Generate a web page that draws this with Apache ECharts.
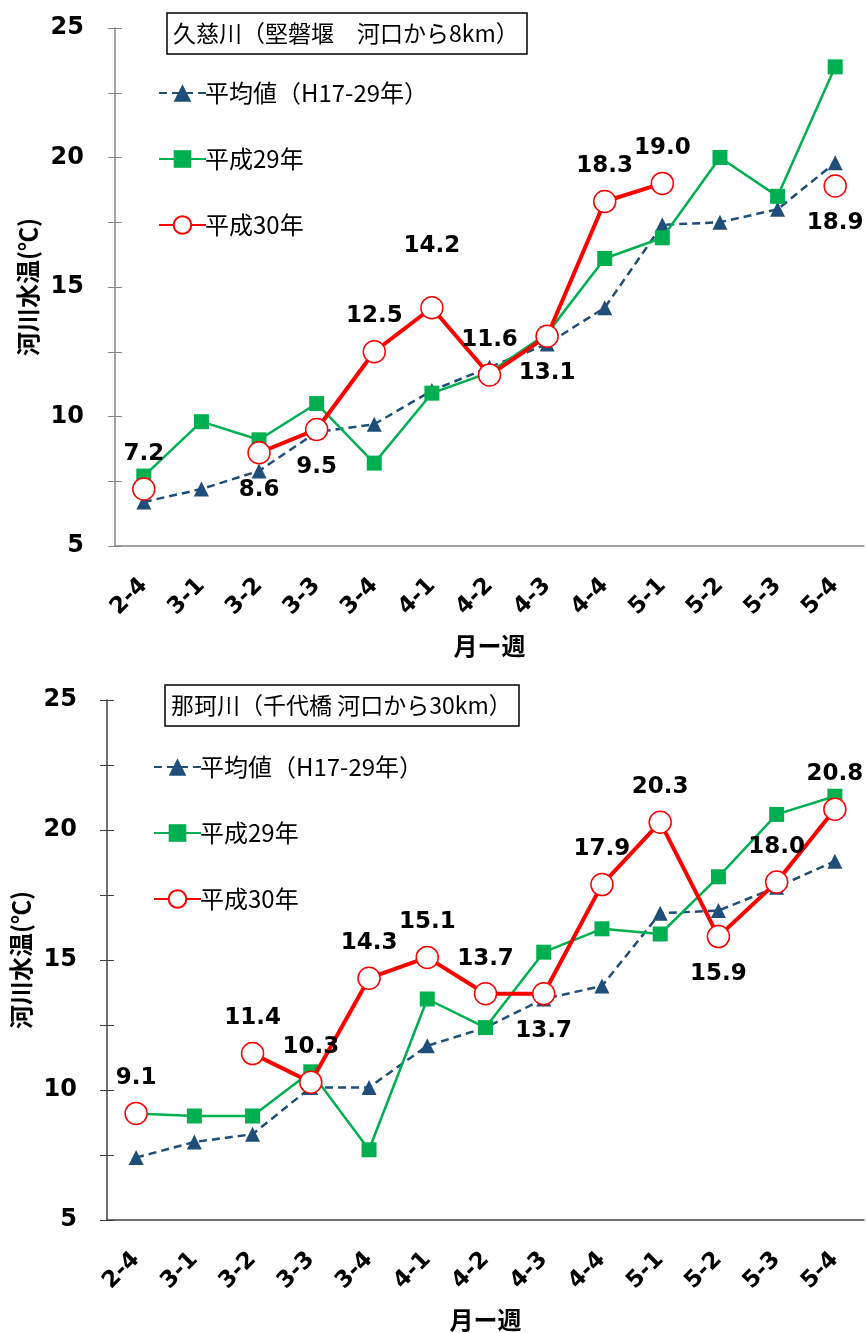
<!DOCTYPE html>
<html>
<head>
<meta charset="utf-8">
<script src="https://cdn.jsdelivr.net/npm/echarts@6/dist/echarts.min.js"></script>
<style>
html,body{margin:0;padding:0;background:#fff;}
#c{width:866px;height:1333px;}
</style>
</head>
<body>
<div id="c"></div>
<script>
const categories = ['2-4','3-1','3-2','3-3','3-4','4-1','4-2','4-3','4-4','5-1','5-2','5-3','5-4'];
const yTicks = [5, 10, 15, 20, 25];

const kujiTitle = '久慈川（堅磐堰　河口から8km）';
const kujiAvg = [6.7, 7.2, 7.9, 9.4, 9.7, 11.0, 11.9, 12.8, 14.2, 17.4, 17.5, 18.0, 19.8];
const kujiH29 = [7.7, 9.8, 9.1, 10.5, 8.2, 10.9, 11.7, 13.2, 16.1, 16.9, 20.0, 18.5, 23.5];
const kujiH30 = [7.2, null, 8.6, 9.5, 12.5, 14.2, 11.6, 13.1, 18.3, 19.0, null, null, 18.9];

const nakaTitle = '那珂川（千代橋 河口から30km）';
const nakaAvg = [7.4, 8.0, 8.3, 10.1, 10.1, 11.7, 12.4, 13.5, 14.0, 16.8, 16.9, 17.8, 18.8];
const nakaH29 = [9.1, 9.0, 9.0, 10.7, 7.7, 13.5, 12.4, 15.3, 16.2, 16.0, 18.2, 20.6, 21.3];
const nakaH30 = [9.1, null, 11.4, 10.3, 14.3, 15.1, 13.7, 13.7, 17.9, 20.3, 15.9, 18.0, 20.8];

const seriesNames = ['平均値（H17-29年）', '平成29年', '平成30年'];
const yName = '河川水温(℃)';
const xName = '月ー週';

// label placement (style, not data)
const kujiBelow = {2: 1, 3: 1, 7: 1, 12: 1};
const kujiFar = {5: 1};
const nakaBelow = {7: 1, 10: 1};

const NUM = "'DejaVu Sans', 'Noto Sans CJK JP', sans-serif";
const JP = "'Noto Sans CJK JP', sans-serif";
const RED = '#FF0000', GREEN = '#00B050', BLUE = '#1F4E79';

function labeled(values, below, far) {
  return values.map((v, i) => {
    if (v == null) return null;
    const lab = {show: true, position: below[i] ? 'bottom' : 'top', distance: far[i] ? 38 : (below[i] ? 14 : 12)};
    return {value: v, label: lab};
  });
}

function axesFor(gi, axisColor, labelMargin) {
  const x = {
    type: 'category', gridIndex: gi, data: categories, boundaryGap: true,
    axisLine: {lineStyle: {color: axisColor, width: 1.5}},
    axisTick: {inside: true, length: 7, alignWithLabel: true, lineStyle: {color: axisColor}},
    axisLabel: {rotate: 45, margin: 36, color: '#000', fontSize: 23, fontWeight: 'bold', fontFamily: NUM},
    name: xName, nameLocation: 'middle', nameGap: 88,
    nameTextStyle: {color: '#000', fontSize: 24, fontWeight: 'bold', fontFamily: JP},
    splitLine: {show: false}
  };
  const y = {
    type: 'value', gridIndex: gi, min: 5, max: 25, interval: 2.5,
    axisLine: {show: true, lineStyle: {color: axisColor, width: 1.5}},
    axisTick: {show: true, length: 7, lineStyle: {color: axisColor}},
    axisLabel: {margin: labelMargin, color: '#000', fontSize: 24, fontWeight: 'bold', fontFamily: NUM,
      formatter: v => yTicks.indexOf(v) >= 0 ? String(v) : ''},
    name: yName, nameLocation: 'middle', nameGap: 74, nameRotate: 90,
    nameTextStyle: {color: '#000', fontSize: 24, fontWeight: 'bold', fontFamily: JP},
    splitLine: {show: false}
  };
  const y2 = {
    type: 'value', gridIndex: gi, min: 5, max: 25, interval: 2.5, position: 'left',
    axisLine: {show: false}, axisLabel: {show: false}, splitLine: {show: false},
    axisTick: {show: true, inside: true, length: 7, lineStyle: {color: axisColor}}
  };
  return {x, y, y2};
}

function seriesFor(gi, avg, h29, h30, below, far) {
  return [
    {name: seriesNames[0], type: 'line', xAxisIndex: gi, yAxisIndex: gi * 2, data: avg,
      symbol: 'triangle', symbolSize: 15, z: 2,
      lineStyle: {color: BLUE, width: 2.5, type: [8, 5]}, itemStyle: {color: BLUE}},
    {name: seriesNames[1], type: 'line', xAxisIndex: gi, yAxisIndex: gi * 2, data: h29,
      symbol: 'rect', symbolSize: 15, z: 3,
      lineStyle: {color: GREEN, width: 2.5}, itemStyle: {color: GREEN}},
    {name: seriesNames[2], type: 'line', xAxisIndex: gi, yAxisIndex: gi * 2, data: labeled(h30, below, far),
      connectNulls: false, symbol: 'circle', symbolSize: 22, showAllSymbol: true, z: 4,
      lineStyle: {color: RED, width: 4}, itemStyle: {color: '#fff', borderColor: RED, borderWidth: 1.5},
      label: {color: '#000', fontSize: 23, fontWeight: 'bold', fontFamily: NUM,
        formatter: p => Number(p.value).toFixed(1)}}
  ];
}

const a0 = axesFor(0, '#868686', 31);
const a1 = axesFor(1, '#404040', 30);

const legendBase = {
  orient: 'vertical', itemWidth: 47, itemHeight: 22, itemGap: 42,
  textStyle: {color: '#000', fontSize: 24, fontFamily: JP, padding: [0, 0, 0, -6]},
  selectedMode: false, data: seriesNames
};

const option = {
  animation: false,
  backgroundColor: '#fff',
  title: [
    {text: kujiTitle, left: 167, top: 13, borderColor: '#000', borderWidth: 1.5, padding: [9, 8, 9, 6],
      textStyle: {fontSize: 23, fontWeight: 'normal', color: '#000', fontFamily: JP}},
    {text: nakaTitle, left: 165, top: 685, borderColor: '#000', borderWidth: 1.5, padding: [9, 8, 9, 6],
      textStyle: {fontSize: 23, fontWeight: 'normal', color: '#000', fontFamily: JP}}
  ],
  legend: [
    Object.assign({}, legendBase, {left: 153, top: 76}),
    Object.assign({}, legendBase, {left: 148, top: 750})
  ],
  grid: [
    {left: 115, right: 2, top: 28, height: 518},
    {left: 107, right: 2, top: 700, height: 520}
  ],
  xAxis: [a0.x, a1.x],
  yAxis: [a0.y, a0.y2, a1.y, a1.y2],
  series: [].concat(
    seriesFor(0, kujiAvg, kujiH29, kujiH30, kujiBelow, kujiFar),
    seriesFor(1, nakaAvg, nakaH29, nakaH30, nakaBelow, {})
  )
};
const chart = echarts.init(document.getElementById('c'));
chart.setOption(option);
</script>
</body>
</html>
